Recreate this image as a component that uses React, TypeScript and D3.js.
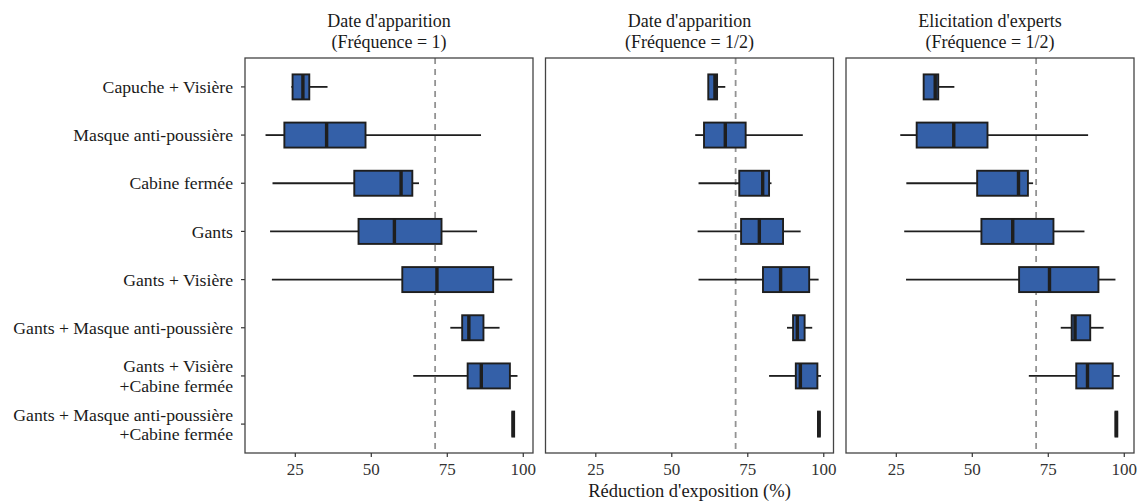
import React from "react";
import * as d3 from "d3";

const categories = [
  "Capuche + Visière",
  "Masque anti-poussière",
  "Cabine fermée",
  "Gants",
  "Gants + Visière",
  "Gants + Masque anti-poussière",
  "Gants + Visière\n+Cabine fermée",
  "Gants + Masque anti-poussière\n+Cabine fermée",
];

const panelTitles = [
  ["Date d'apparition", "(Fréquence = 1)"],
  ["Date d'apparition", "(Fréquence = 1/2)"],
  ["Elicitation d'experts", "(Fréquence = 1/2)"],
];

// Panel 1 : Date d'apparition (Fréquence = 1)
const p1Min = [23.7, 15.2, 17.5, 16.7, 17.3, 76.0, 63.8, 96.3];
const p1Q1 = [24.1, 21.4, 44.4, 45.8, 60.2, 79.9, 81.7, 96.4];
const p1Med = [27.5, 35.3, 59.8, 57.6, 71.6, 82.1, 86.2, 96.7];
const p1Q3 = [29.6, 48.1, 63.5, 73.1, 90.1, 86.9, 95.6, 97.0];
const p1Max = [35.6, 86.1, 65.7, 84.8, 96.4, 92.2, 98.1, 97.1];

// Panel 2 : Date d'apparition (Fréquence = 1/2)
const p2Min = [62.0, 57.7, 58.8, 58.5, 58.8, 87.9, 82.0, 98.0];
const p2Q1 = [62.0, 60.6, 72.2, 72.8, 80.0, 89.9, 90.8, 98.1];
const p2Med = [64.2, 67.6, 79.9, 78.8, 85.8, 91.3, 92.3, 98.4];
const p2Q3 = [64.9, 74.3, 82.0, 86.6, 95.2, 93.7, 97.9, 98.7];
const p2Max = [67.6, 93.1, 82.8, 92.4, 98.3, 96.2, 99.1, 98.8];

// Panel 3 : Elicitation d'experts (Fréquence = 1/2)
const p3Min = [33.8, 26.3, 28.3, 27.6, 28.2, 79.1, 68.6, 97.0];
const p3Q1 = [34.0, 31.7, 51.6, 53.0, 65.4, 82.7, 84.2, 97.1];
const p3Med = [37.8, 43.9, 65.2, 63.3, 75.4, 83.8, 87.9, 97.4];
const p3Q3 = [38.8, 55.0, 68.3, 76.7, 91.5, 88.8, 96.2, 97.7];
const p3Max = [44.1, 88.1, 70.0, 86.9, 97.1, 93.2, 98.5, 97.8];

const xTicks = [25, 50, 75, 100];
const xDomain = [8.45, 103.2];
const refLine = 71;
const xTitle = "Réduction d'exposition (%)";

const panelsData = [
  { min: p1Min, q1: p1Q1, med: p1Med, q3: p1Q3, max: p1Max },
  { min: p2Min, q1: p2Q1, med: p2Med, q3: p2Q3, max: p2Max },
  { min: p3Min, q1: p3Q1, med: p3Med, q3: p3Q3, max: p3Max },
];

const W = 1138;
const H = 502;
const top = 58;
const bottom = 453;
const panelLefts = [245, 545.5, 846];
const panelW = 288;
const FONT = "'Liberation Serif', 'Times New Roman', serif";
const BOX_FILL = "#3460a8";
const DARK = "#1e1e1e";
const boxH = 25;

export default function App() {
  const y = d3.scalePoint<string>().domain(categories).range([top, bottom]).padding(0.6);

  return (
    <svg
      width={W}
      height={H}
      style={{ position: "absolute", left: 0, top: 0, background: "#fff" }}
      fontFamily={FONT}
    >
      {/* y-axis labels and ticks */}
      {categories.map((c) => {
        const cy = y(c)!;
        const lines = c.split("\n");
        const lh = 19.5;
        const startY = cy - ((lines.length - 1) * lh) / 2;
        return (
          <g key={c}>
            <line x1={panelLefts[0] - 4} x2={panelLefts[0]} y1={cy} y2={cy} stroke="#333" strokeWidth={1.2} />
            <text x={panelLefts[0] - 12} textAnchor="end" fontSize={17.7} fill="#1a1a1a">
              {lines.map((l, i) => (
                <tspan key={i} x={panelLefts[0] - 12} y={startY + i * lh} dy="0.35em">
                  {l}
                </tspan>
              ))}
            </text>
          </g>
        );
      })}

      {panelsData.map((pd, pi) => {
        const left = panelLefts[pi];
        const x = d3.scaleLinear().domain(xDomain).range([left, left + panelW]);
        const cx = left + panelW / 2;
        return (
          <g key={pi}>
            <text x={cx} y={27} textAnchor="middle" fontSize={18} fill="#1a1a1a">
              {panelTitles[pi][0]}
            </text>
            <text x={cx} y={47.5} textAnchor="middle" fontSize={18} fill="#1a1a1a">
              {panelTitles[pi][1]}
            </text>
            {/* dashed reference line */}
            <line
              x1={x(refLine)}
              x2={x(refLine)}
              y1={top}
              y2={bottom}
              stroke="#939393"
              strokeWidth={1.8}
              strokeDasharray="6,5"
            />
            {categories.map((c, i) => {
              const cy = y(c)!;
              return (
                <g key={c}>
                  <line x1={x(pd.min[i])} x2={x(pd.q1[i])} y1={cy} y2={cy} stroke={DARK} strokeWidth={1.8} />
                  <line x1={x(pd.q3[i])} x2={x(pd.max[i])} y1={cy} y2={cy} stroke={DARK} strokeWidth={1.8} />
                  <rect
                    x={x(pd.q1[i])}
                    y={cy - boxH / 2}
                    width={x(pd.q3[i]) - x(pd.q1[i])}
                    height={boxH}
                    fill={BOX_FILL}
                    stroke={DARK}
                    strokeWidth={1.9}
                  />
                  <line
                    x1={x(pd.med[i])}
                    x2={x(pd.med[i])}
                    y1={cy - boxH / 2}
                    y2={cy + boxH / 2}
                    stroke={DARK}
                    strokeWidth={3.4}
                  />
                </g>
              );
            })}
            {/* panel border */}
            <rect x={left} y={top} width={panelW} height={bottom - top} fill="none" stroke="#444" strokeWidth={1.3} />
            {/* x ticks */}
            {xTicks.map((t) => (
              <g key={t}>
                <line x1={x(t)} x2={x(t)} y1={bottom} y2={bottom + 4} stroke="#333" strokeWidth={1.2} />
                <text x={x(t)} y={bottom + 22} textAnchor="middle" fontSize={17} fill="#333">
                  {t}
                </text>
              </g>
            ))}
          </g>
        );
      })}

      <text
        x={panelLefts[1] + panelW / 2}
        y={497}
        textAnchor="middle"
        fontSize={18.5}
        fill="#1a1a1a"
      >
        {xTitle}
      </text>
    </svg>
  );
}
